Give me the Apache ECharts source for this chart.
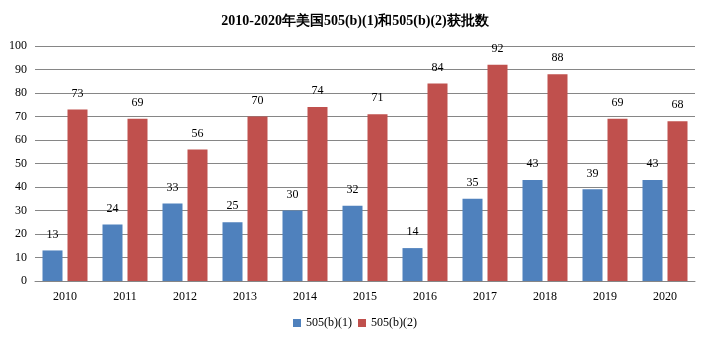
<!DOCTYPE html>
<html><head><meta charset="utf-8">
<script src="https://cdn.jsdelivr.net/npm/echarts@6/dist/echarts.min.js"></script>
<style>html,body{margin:0;padding:0;background:#fff}#c{width:710px;height:344px}</style>
</head><body><div id="c"></div>
<script>
const categories = ['2010','2011','2012','2013','2014','2015','2016','2017','2018','2019','2020'];
const seriesB1 = [13,24,33,25,30,32,14,35,43,39,43];
const seriesB2 = [73,69,56,70,74,71,84,92,88,69,68];
const seriesNames = ['505(b)(1)','505(b)(2)'];
const font = '"Liberation Serif","Times New Roman",serif';
const chart = echarts.init(document.getElementById('c'));
chart.setOption({
  animation:false,
  title:{text:'2010-2020年美国505(b)(1)和505(b)(2)获批数',left:'center',top:9,
    textStyle:{fontFamily:font,fontSize:14,fontWeight:'bold',color:'#000'}},
  legend:{bottom:10,left:'center',itemWidth:8,itemHeight:8,itemGap:6,icon:'rect',
    textStyle:{fontFamily:font,fontSize:12,color:'#000'},data:seriesNames},
  grid:{left:35,right:15,top:46,bottom:63,containLabel:false},
  xAxis:{type:'category',data:categories,
    axisLine:{lineStyle:{color:'#868686'}},axisTick:{show:false},
    axisLabel:{fontFamily:font,fontSize:12,color:'#000',margin:10}},
  yAxis:{type:'value',min:0,max:100,interval:10,
    axisLine:{show:false},axisTick:{show:false},
    splitLine:{lineStyle:{color:'#868686'}},
    axisLabel:{fontFamily:font,fontSize:12,color:'#000',margin:8}},
  series:[
    {name:seriesNames[0],type:'bar',data:seriesB1,barWidth:20,barGap:'25%',
     itemStyle:{color:'#4F81BD'},
     label:{show:true,position:'top',distance:10,fontFamily:font,fontSize:12,color:'#000'}},
    {name:seriesNames[1],type:'bar',data:seriesB2,barWidth:20,
     itemStyle:{color:'#C0504D'},
     label:{show:true,position:'top',distance:10,fontFamily:font,fontSize:12,color:'#000'}}
  ]
});
</script></body></html>
